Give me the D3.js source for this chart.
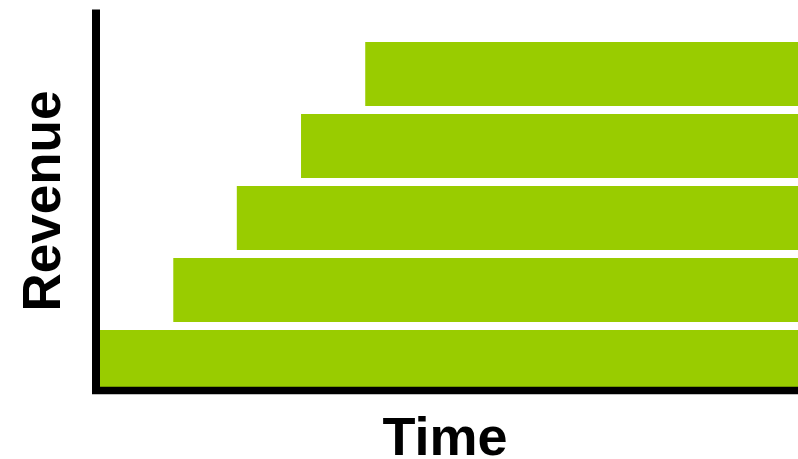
<!DOCTYPE html>
<html>
<head>
<meta charset="utf-8">
<script src="https://cdn.jsdelivr.net/npm/d3@7"></script>
<style>
  html, body { margin: 0; padding: 0; background: #fff; }
  svg { display: block; }
</style>
</head>
<body>
<svg id="chart" width="798" height="459"></svg>
<script>
// Revenue cohorts: each cohort starts later in time and runs to the end
const cohorts = ["C1", "C2", "C3", "C4", "C5"];
const cohortStart = [0, 10.5, 19.6, 28.8, 38];
const timeEnd = 100;
const xTitle = "Time";
const yTitle = "Revenue";

const svg = d3.select("#chart");
const W = 798;

const x = d3.scaleLinear().domain([0, timeEnd]).range([100, W]);
const y = d3.scaleBand().domain(cohorts.slice().reverse())
  .range([42, 394]).paddingInner(8 / 72).paddingOuter(0);

const data = cohorts.map((c, i) => ({ c, start: cohortStart[i] }));

svg.append("g").selectAll("rect").data(data).join("rect")
  .attr("x", d => x(d.start))
  .attr("y", d => y(d.c))
  .attr("width", d => x(timeEnd) - x(d.start))
  .attr("height", y.bandwidth())
  .attr("fill", "#99cc00");

// axes drawn as heavy black strokes
svg.append("line").attr("x1", 96).attr("x2", 96).attr("y1", 9.5).attr("y2", 394)
  .attr("stroke", "#000").attr("stroke-width", 8);
svg.append("line").attr("x1", 92).attr("x2", W).attr("y1", 390.5).attr("y2", 390.5)
  .attr("stroke", "#000").attr("stroke-width", 7.5);

svg.append("text").attr("x", 445).attr("y", 455)
  .attr("text-anchor", "middle")
  .attr("font-family", "Liberation Sans, Arial, sans-serif")
  .attr("font-weight", "bold").attr("font-size", 54)
  .text(xTitle);

svg.append("text")
  .attr("transform", "translate(60,201) rotate(-90)")
  .attr("text-anchor", "middle")
  .attr("font-family", "Liberation Sans, Arial, sans-serif")
  .attr("font-weight", "bold").attr("font-size", 53)
  .text(yTitle);
</script>
</body>
</html>
